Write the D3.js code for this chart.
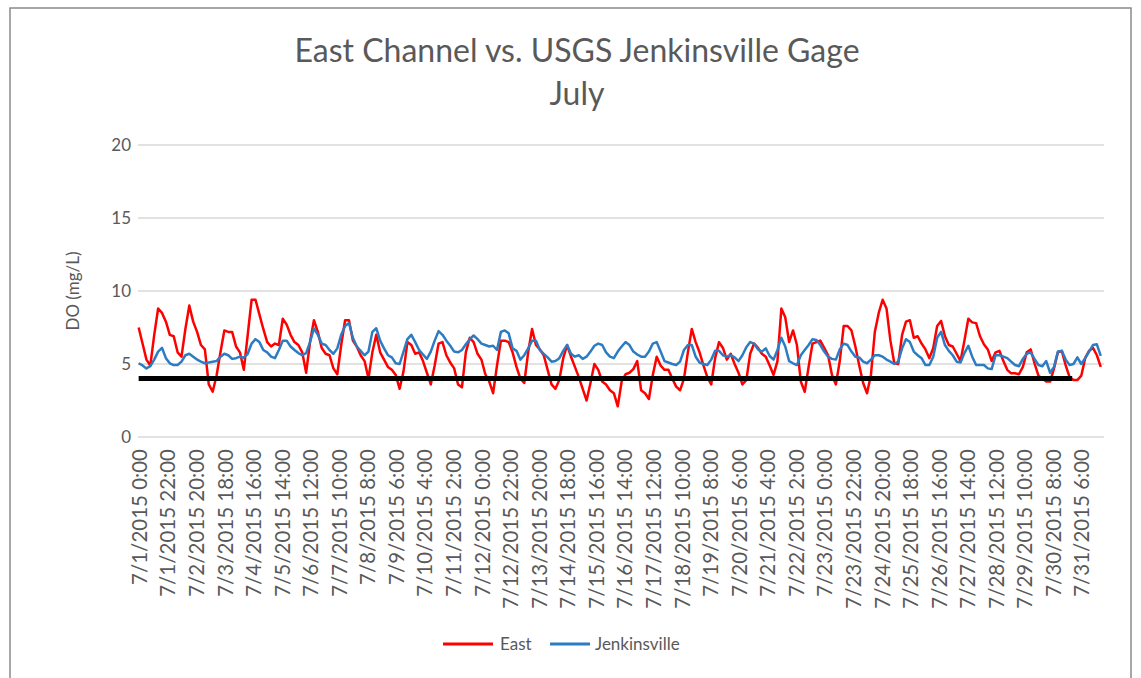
<!DOCTYPE html>
<html>
<head>
<meta charset="utf-8">
<script src="https://cdn.jsdelivr.net/npm/d3@7"></script>
<style>
  body { margin: 0; background: #fff; }
  text { font-family: Lato, "Open Sans", sans-serif; fill: #595959; }
</style>
</head>
<body>
<div id="chart"></div>
<script>
var titleLines = ["East Channel vs. USGS Jenkinsville Gage", "July"],
    yTitle = "DO (mg/L)",
    seriesNames = ["East", "Jenkinsville"],
    colors = ["#ff0000", "#2c7cc4"];

var yTicks = [0, 5, 10, 15, 20];

var tickLabels = ["7/1/2015 0:00","7/1/2015 22:00","7/2/2015 20:00","7/3/2015 18:00","7/4/2015 16:00",
  "7/5/2015 14:00","7/6/2015 12:00","7/7/2015 10:00","7/8/2015 8:00","7/9/2015 6:00","7/10/2015 4:00",
  "7/11/2015 2:00","7/12/2015 0:00","7/12/2015 22:00","7/13/2015 20:00","7/14/2015 18:00","7/15/2015 16:00",
  "7/16/2015 14:00","7/17/2015 12:00","7/18/2015 10:00","7/19/2015 8:00","7/20/2015 6:00","7/21/2015 4:00",
  "7/22/2015 2:00","7/23/2015 0:00","7/23/2015 22:00","7/24/2015 20:00","7/25/2015 18:00","7/26/2015 16:00",
  "7/27/2015 14:00","7/28/2015 12:00","7/29/2015 10:00","7/30/2015 8:00","7/31/2015 6:00"];

// hourly categories for the month, readings below taken every 3 hours
var firstHour = "7/1/2015 0:00", lastHour = "7/31/2015 23:00", readingStep = 3;

// DO standard line
var standardValue = 4, standardEnd = "7/30/2015 23:00";

// one row per day, 8 readings (0,3,6,...,21h)
var east = [
  7.5, 6.4, 5.3, 4.9, 7.0, 8.8, 8.5, 7.9,
  7.0, 6.9, 5.8, 5.5, 7.4, 9.0, 7.9, 7.2,
  6.3, 6.0, 3.6, 3.1, 4.2, 5.8, 7.3, 7.2,
  7.2, 6.2, 5.8, 4.6, 7.0, 9.4, 9.4, 8.4,
  7.4, 6.5, 6.2, 6.4, 6.3, 8.1, 7.7, 7.0,
  6.5, 6.3, 5.8, 4.4, 6.5, 8.0, 7.2, 6.1,
  5.7, 5.6, 4.7, 4.3, 6.3, 8.0, 8.0, 6.6,
  6.2, 5.6, 5.2, 4.0, 5.8, 7.0, 5.8, 5.3,
  4.8, 4.6, 4.25, 3.3, 4.5, 6.5, 6.3, 5.7,
  5.8, 5.2, 4.4, 3.6, 4.9, 6.4, 6.5, 5.6,
  5.1, 4.7, 3.6, 3.4, 5.8, 6.8, 6.5, 5.7,
  5.3, 4.3, 3.8, 3.0, 4.9, 6.6, 6.6, 6.5,
  5.8, 4.8, 4.0, 3.7, 5.8, 7.4, 6.3, 6.0,
  5.6, 4.6, 3.6, 3.3, 3.9, 5.4, 6.3, 5.5,
  4.8, 4.1, 3.3, 2.5, 3.7, 5.0, 4.6, 3.8,
  3.6, 3.2, 3.0, 2.1, 3.8, 4.3, 4.4, 4.65,
  5.2, 3.2, 3.0, 2.6, 4.25, 5.5, 4.9, 4.6,
  4.6, 4.0, 3.45, 3.2, 4.0, 5.8, 7.4, 6.5,
  5.8, 4.9, 4.1, 3.6, 5.4, 6.5, 6.1, 5.3,
  5.7, 5.0, 4.4, 3.6, 3.9, 5.7, 6.4, 6.1,
  5.7, 5.5, 4.9, 4.25, 5.2, 8.8, 8.2, 6.5,
  7.3, 6.3, 3.8, 3.1, 4.8, 6.4, 6.5, 6.6,
  6.1, 5.6, 4.25, 3.6, 5.2, 7.6, 7.6, 7.3,
  6.2, 4.9, 3.7, 3.0, 4.25, 7.2, 8.5, 9.4,
  8.8, 6.6, 5.05, 5.0, 7.0, 7.9, 8.0, 6.8,
  6.9, 6.4, 6.0, 5.4, 6.1, 7.6, 7.95, 6.9,
  6.3, 6.2, 5.7, 5.2, 6.6, 8.1, 7.85, 7.8,
  6.9, 6.35, 6.0, 5.2, 5.8, 5.9, 5.2, 4.6,
  4.36, 4.36, 4.3, 4.8, 5.8, 6.0, 5.05, 4.2,
  4.0, 3.8, 3.8, 4.7, 5.8, 5.9, 4.9, 4.1,
  3.9, 3.9, 4.2, 5.4, 5.9, 6.1, 5.6, 4.8
];

var jenkinsville = [
  5.05, 4.9, 4.7, 4.85, 5.3, 5.85, 6.1, 5.4,
  5.05, 4.93, 4.93, 5.16, 5.6, 5.7, 5.5, 5.3,
  5.16, 5.05, 5.1, 5.16, 5.2, 5.5, 5.7, 5.6,
  5.35, 5.4, 5.5, 5.43, 5.7, 6.4, 6.7, 6.5,
  5.96, 5.8, 5.5, 5.4, 5.96, 6.6, 6.6, 6.2,
  5.96, 5.75, 5.6, 5.75, 6.5, 7.44, 7.0, 6.4,
  6.3, 5.96, 5.7, 6.07, 7.0, 7.6, 7.8, 6.8,
  6.2, 5.9, 5.6, 5.85, 7.2, 7.45, 6.6, 6.07,
  5.6, 5.45, 5.05, 5.0, 5.85, 6.7, 7.0, 6.5,
  5.96, 5.65, 5.35, 5.85, 6.6, 7.25, 7.0, 6.6,
  6.25, 5.85, 5.8, 5.96, 6.35, 6.7, 6.95, 6.7,
  6.4, 6.3, 6.2, 6.25, 5.96, 7.2, 7.3, 7.1,
  6.07, 5.9, 5.3, 5.6, 6.07, 6.6, 6.6, 5.96,
  5.7, 5.45, 5.16, 5.2, 5.4, 5.9, 6.3, 5.7,
  5.5, 5.6, 5.35, 5.5, 5.85, 6.25, 6.4, 6.3,
  5.8, 5.5, 5.4, 5.85, 6.2, 6.5, 6.3, 5.85,
  5.65, 5.5, 5.5, 5.85, 6.4, 6.5, 5.85, 5.2,
  5.1, 5.0, 4.93, 5.16, 5.96, 6.3, 6.3, 5.5,
  5.1, 5.0, 4.93, 5.3, 5.9, 5.9, 5.6, 5.5,
  5.6, 5.45, 5.2, 5.6, 6.15, 6.5, 6.4, 6.0,
  5.85, 6.07, 5.55, 5.3, 5.96, 6.8, 6.2, 5.2,
  5.05, 4.93, 5.6, 5.96, 6.3, 6.7, 6.65, 6.3,
  5.85, 5.5, 5.35, 5.3, 6.0, 6.4, 6.3, 5.85,
  5.5, 5.45, 5.16, 5.05, 5.3, 5.6, 5.6, 5.5,
  5.3, 5.16, 5.0, 5.16, 6.07, 6.7, 6.5, 5.85,
  5.6, 5.4, 4.93, 4.93, 5.5, 6.8, 7.2, 6.3,
  5.9, 5.6, 5.16, 5.1, 5.75, 6.25, 5.5, 4.93,
  4.93, 4.93, 4.7, 4.65, 5.6, 5.6, 5.5, 5.4,
  5.16, 4.93, 4.85, 5.35, 5.7, 5.8, 5.35, 4.93,
  4.85, 5.2, 4.4, 4.8, 5.85, 5.9, 5.3, 4.93,
  5.0, 5.45, 5.0, 5.4, 5.85, 6.3, 6.35, 5.55
];

var W = 1141, H = 678,
    margin = {left: 138, top: 145, right: 37, bottom: 241};

var parse = d3.timeParse("%m/%d/%Y %H:%M"),
    fmt = d3.timeFormat("%-m/%-d/%Y %-H:%M");

var hours = d3.timeHours(parse(firstHour), d3.timeHour.offset(parse(lastHour), 1)).map(fmt);

var x = d3.scaleBand()
    .domain(hours)
    .range([margin.left, W - margin.right])
    .padding(0);
var y = d3.scaleLinear()
    .domain([0, 20])
    .range([H - margin.bottom, margin.top]);

function cx(label) { return x(label) + x.bandwidth() / 2; }

var svg = d3.select("#chart").append("svg")
    .attr("width", W)
    .attr("height", H);

svg.append("rect")
    .attr("width", W).attr("height", H)
    .attr("fill", "#fff");

// chart area frame
svg.append("rect")
    .attr("x", 10).attr("y", 8)
    .attr("width", 1121).attr("height", 720)
    .attr("fill", "none")
    .attr("stroke", "#8a8a8a")
    .attr("stroke-width", 1.5);

// title
svg.selectAll("text.title")
  .data(titleLines)
  .enter().append("text")
    .attr("class", "title")
    .attr("x", 577)
    .attr("y", function(d, i) { return 62 + i * 43; })
    .attr("text-anchor", "middle")
    .style("font-size", "32px")
    .text(function(d) { return d; });

// gridlines
svg.selectAll("line.grid")
  .data(yTicks)
  .enter().append("line")
    .attr("class", "grid")
    .attr("x1", margin.left).attr("x2", W - margin.right)
    .attr("y1", function(d) { return y(d); })
    .attr("y2", function(d) { return y(d); })
    .attr("stroke", "#d9d9d9")
    .attr("stroke-width", 1.3);

svg.selectAll("text.ytick")
  .data(yTicks)
  .enter().append("text")
    .attr("class", "ytick")
    .attr("x", 131)
    .attr("y", function(d) { return y(d); })
    .attr("dy", "0.35em")
    .attr("text-anchor", "end")
    .style("font-size", "17px")
    .text(function(d) { return d; });

svg.append("text")
    .attr("transform", "translate(73," + ((y(0) + y(20)) / 2) + ") rotate(-90)")
    .attr("text-anchor", "middle")
    .attr("dy", "0.35em")
    .style("font-size", "17px")
    .text(yTitle);

// x category labels
svg.selectAll("text.xtick")
  .data(tickLabels)
  .enter().append("text")
    .attr("class", "xtick")
    .attr("transform", function(d) { return "translate(" + (cx(d) + 1) + "," + (y(0) + 12) + ") rotate(-90)"; })
    .attr("text-anchor", "end")
    .attr("dy", "0.35em")
    .style("font-size", "20.5px")
    .text(function(d) { return d; });

// series
var line = d3.line()
    .x(function(d, i) { return cx(hours[i * readingStep]); })
    .y(function(d) { return y(d); });

svg.selectAll("path.series")
  .data([east, jenkinsville])
  .enter().append("path")
    .attr("class", "series")
    .attr("d", line)
    .attr("fill", "none")
    .attr("stroke", function(d, i) { return colors[i]; })
    .attr("stroke-width", 2.5)
    .attr("stroke-linejoin", "round");

svg.append("line")
    .attr("x1", cx(hours[0])).attr("x2", cx(standardEnd))
    .attr("y1", y(standardValue)).attr("y2", y(standardValue))
    .attr("stroke", "#000")
    .attr("stroke-width", 5);

// legend
var legendX = [443, 550];
var legend = svg.selectAll("g.legend")
  .data(seriesNames)
  .enter().append("g")
    .attr("class", "legend")
    .attr("transform", function(d, i) { return "translate(" + legendX[i] + ",644)"; });

legend.append("line")
    .attr("x1", 0).attr("x2", function(d, i) { return i ? 40 : 50; })
    .attr("stroke", function(d, i) { return colors[i]; })
    .attr("stroke-width", 3);

legend.append("text")
    .attr("x", function(d, i) { return i ? 45 : 57; })
    .attr("dy", "0.35em")
    .style("font-size", "17px")
    .text(function(d) { return d; });
</script>
</body>
</html>
